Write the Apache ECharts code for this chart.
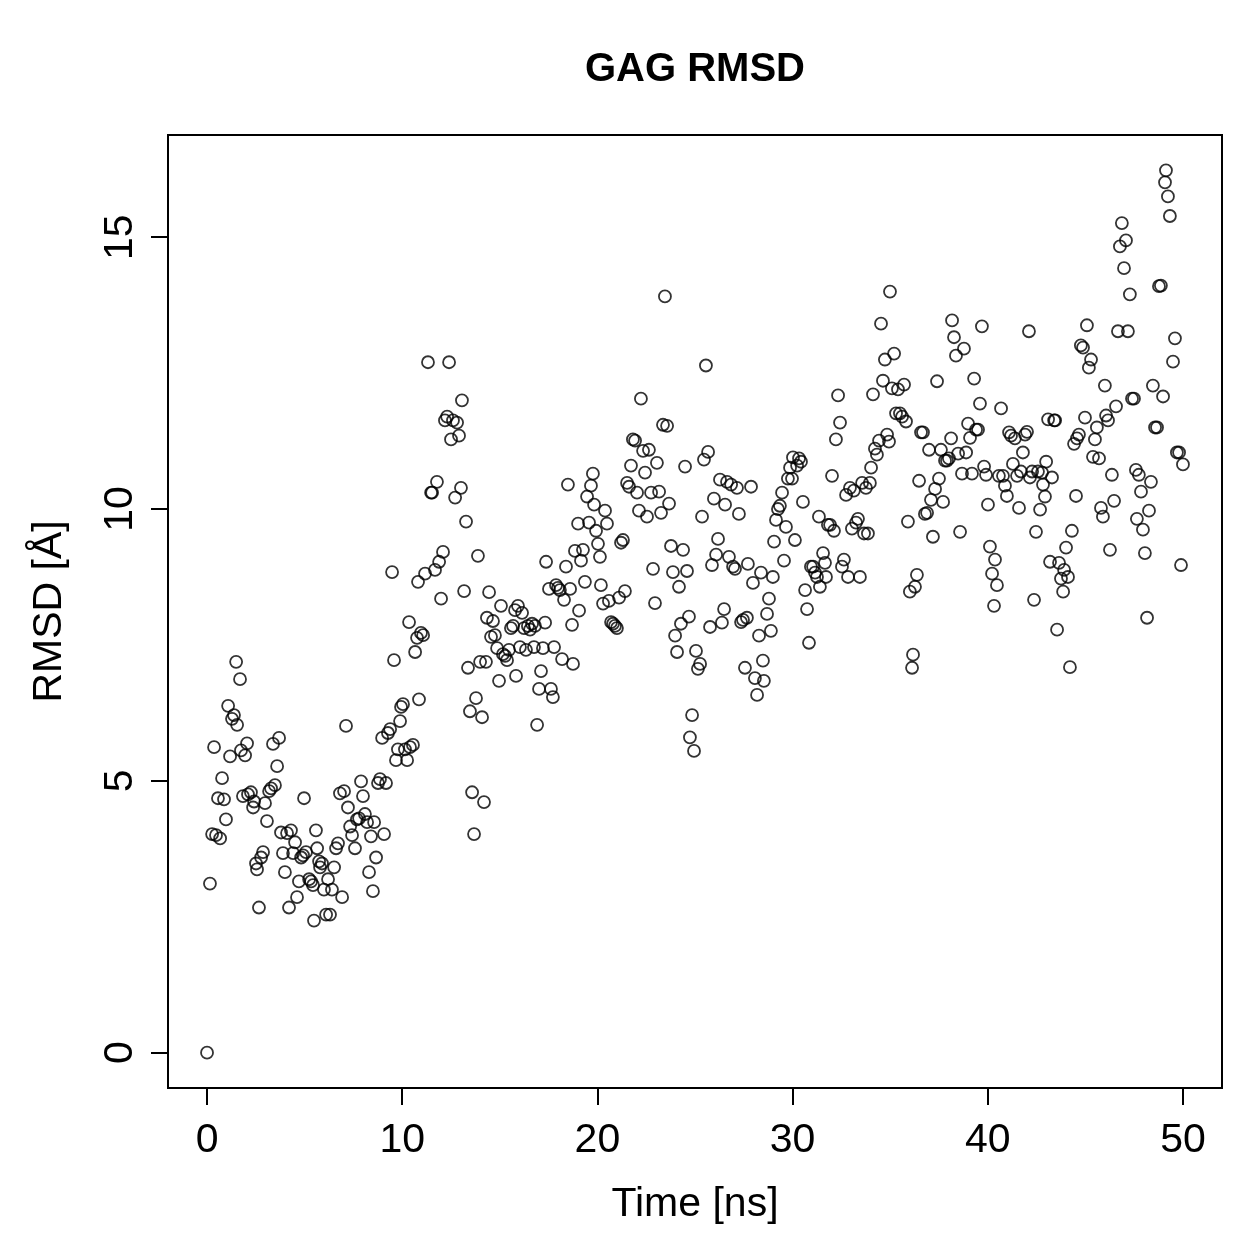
<!DOCTYPE html>
<html>
<head>
<meta charset="utf-8">
<script src="https://cdn.jsdelivr.net/npm/echarts@6/dist/echarts.min.js"></script>
<style>html,body{margin:0;padding:0;background:#fff}#c{width:1259px;height:1259px}</style>
</head>
<body>
<div id="c"></div>
<script>
const chartTitle = 'GAG RMSD';
const xTicks = [0, 10, 20, 30, 40, 50];
const yTicks = [0, 5, 10, 15];
// [time (ns), RMSD (Å)]
const samples = [
[0,0],[0.15,3.11],[0.26,4.02],[0.36,5.62],[0.46,4.0],[0.56,4.68],[0.67,3.94],[0.77,5.05],[0.87,4.66],[0.97,4.29],
[1.08,6.38],[1.18,5.45],[1.28,6.14],[1.38,6.21],[1.49,7.19],[1.54,6.03],[1.69,6.87],[1.74,5.56],[1.84,4.72],[1.95,5.47],
[2.05,5.69],[2.1,4.75],[2.25,4.79],[2.36,4.51],[2.41,4.62],[2.51,3.48],[2.56,3.37],[2.66,2.67],[2.77,3.59],[2.87,3.69],
[2.97,4.59],[3.07,4.26],[3.18,4.81],[3.28,4.86],[3.38,5.68],[3.48,4.92],[3.59,5.27],[3.69,5.79],[3.79,4.05],[3.89,3.67],
[3.99,3.32],[4.1,4.04],[4.2,2.67],[4.3,4.09],[4.41,3.67],[4.51,3.87],[4.61,2.86],[4.71,3.15],[4.82,3.59],[4.92,3.63],
[4.97,4.68],[5.07,3.69],[5.23,3.19],[5.33,3.15],[5.43,3.08],[5.48,2.43],[5.58,4.09],[5.64,3.76],[5.74,3.52],[5.79,3.41],
[5.89,3.48],[5.99,3.0],[6.1,2.54],[6.2,3.19],[6.3,2.54],[6.4,3.0],[6.51,3.41],[6.61,3.76],[6.71,3.85],[6.81,4.77],
[6.92,2.86],[7.02,4.81],[7.12,6.01],[7.22,4.51],[7.33,4.16],[7.43,4.0],[7.58,3.76],[7.68,4.29],[7.79,4.31],[7.89,4.99],
[7.99,4.72],[8.09,4.39],[8.2,4.24],[8.3,3.32],[8.4,3.98],[8.5,2.97],[8.56,4.24],[8.66,3.59],[8.76,4.96],[8.86,5.03],
[8.97,5.79],[9.07,4.02],[9.17,4.96],[9.27,5.88],[9.38,5.95],[9.48,8.84],[9.58,7.22],[9.68,5.38],[9.78,5.58],[9.89,6.1],
[9.94,6.36],[10.04,6.41],[10.14,5.58],[10.25,5.38],[10.35,7.92],[10.4,5.62],[10.55,5.66],[10.66,7.37],[10.76,7.63],[10.81,8.66],
[10.86,6.5],[10.96,7.72],[11.07,7.68],[11.17,8.81],[11.32,12.7],[11.48,10.3],[11.53,10.3],[11.68,8.88],[11.78,10.5],[11.89,9.03],
[11.99,8.35],[12.09,9.21],[12.19,11.63],[12.3,11.7],[12.4,12.7],[12.5,11.28],[12.6,11.63],[12.71,10.21],[12.81,11.59],[12.91,11.35],
[13.01,10.39],[13.06,12.0],[13.17,8.49],[13.27,9.77],[13.37,7.08],[13.47,6.28],[13.58,4.79],[13.68,4.02],[13.78,6.52],[13.88,9.14],
[13.99,7.19],[14.09,6.17],[14.19,4.61],[14.29,7.19],[14.34,8.0],[14.45,8.47],[14.55,7.65],[14.65,7.94],[14.75,7.68],[14.86,7.44],
[14.96,6.84],[15.06,8.22],[15.16,7.33],[15.27,7.3],[15.37,7.22],[15.47,7.41],[15.57,7.81],[15.68,7.85],[15.78,8.14],[15.83,6.93],
[15.93,8.22],[16.03,7.46],[16.14,8.09],[16.24,7.81],[16.34,7.41],[16.44,7.85],[16.55,7.78],[16.65,7.89],[16.75,7.46],[16.8,7.85],
[16.91,6.03],[17.01,6.69],[17.11,7.02],[17.21,7.44],[17.32,7.91],[17.37,9.03],[17.52,8.53],[17.62,6.69],[17.72,6.54],[17.78,7.46],
[17.88,8.6],[17.98,8.55],[18.08,8.51],[18.19,7.24],[18.29,8.33],[18.39,8.94],[18.49,10.45],[18.6,8.53],[18.7,7.87],[18.75,7.15],
[18.85,9.23],[19.01,9.73],[19.06,8.13],[19.16,9.05],[19.26,9.25],[19.36,8.66],[19.47,10.23],[19.57,9.75],[19.67,10.43],[19.77,10.65],
[19.83,10.08],[19.93,9.6],[20.03,9.36],[20.13,9.12],[20.18,8.6],[20.29,8.26],[20.39,9.97],[20.49,9.73],[20.59,8.31],[20.7,7.92],
[20.8,7.89],[20.9,7.85],[21.0,7.81],[21.11,8.37],[21.21,9.38],[21.31,9.43],[21.41,8.49],[21.52,10.48],[21.62,10.41],[21.72,10.8],
[21.82,11.28],[21.93,11.26],[22.03,10.3],[22.13,9.97],[22.23,12.03],[22.34,11.07],[22.44,10.67],[22.54,9.86],[22.64,11.09],[22.75,10.3],
[22.85,8.9],[22.95,8.27],[23.05,10.85],[23.16,10.32],[23.26,9.93],[23.36,11.55],[23.46,13.91],[23.57,11.53],[23.67,10.1],[23.77,9.32],
[23.87,8.84],[23.98,7.67],[24.08,7.37],[24.18,8.57],[24.28,7.89],[24.39,9.25],[24.49,10.78],[24.59,8.86],[24.69,8.02],[24.74,5.8],
[24.85,6.21],[24.95,5.55],[25.05,7.39],[25.15,7.06],[25.26,7.15],[25.36,9.86],[25.46,10.91],[25.56,12.64],[25.67,11.05],[25.77,7.83],
[25.87,8.97],[25.97,10.19],[26.08,9.16],[26.18,9.45],[26.28,10.54],[26.38,7.91],[26.49,8.16],[26.54,10.08],[26.64,10.5],[26.74,9.12],
[26.85,10.45],[26.95,8.94],[27.05,8.9],[27.15,10.39],[27.25,9.91],[27.36,7.92],[27.46,7.96],[27.56,7.08],[27.66,8.0],[27.71,8.99],
[27.87,10.41],[27.97,8.64],[28.07,6.89],[28.18,6.58],[28.28,7.67],[28.38,8.83],[28.48,7.21],[28.53,6.84],[28.69,8.07],[28.79,8.35],
[28.89,7.76],[28.99,8.75],[29.05,9.4],[29.15,9.8],[29.25,10.0],[29.35,10.06],[29.46,10.3],[29.56,9.05],[29.66,9.67],[29.76,10.56],
[29.87,10.76],[29.97,10.56],[30.02,10.95],[30.12,9.43],[30.23,10.8],[30.33,10.93],[30.43,10.87],[30.53,10.13],[30.64,8.51],[30.74,8.16],
[30.84,7.54],[30.94,8.94],[31.05,8.94],[31.15,8.83],[31.25,8.75],[31.35,9.86],[31.4,8.57],[31.56,9.19],[31.66,9.01],[31.71,8.75],
[31.81,9.71],[31.92,9.71],[32.02,10.61],[32.12,9.6],[32.22,11.28],[32.33,12.09],[32.43,11.59],[32.53,8.94],[32.63,9.07],[32.74,10.26],
[32.84,8.75],[32.94,10.39],[33.04,9.64],[33.14,10.34],[33.25,9.75],[33.35,9.82],[33.45,8.75],[33.56,10.48],[33.66,9.55],[33.76,10.39],
[33.86,9.55],[33.96,10.48],[34.02,10.76],[34.12,12.11],[34.22,11.11],[34.32,11.0],[34.43,11.26],[34.53,13.41],[34.63,12.36],[34.73,12.75],
[34.84,11.37],[34.94,11.24],[34.99,14.0],[35.09,12.22],[35.2,12.86],[35.3,11.76],[35.4,12.2],[35.5,11.76],[35.61,11.7],[35.71,12.29],
[35.81,11.61],[35.91,9.77],[36.01,8.48],[36.12,7.08],[36.17,7.32],[36.27,8.57],[36.37,8.79],[36.48,10.52],[36.58,11.41],[36.68,11.41],
[36.78,9.91],[36.89,9.93],[36.99,11.09],[37.09,10.17],[37.19,9.49],[37.3,10.37],[37.4,12.35],[37.5,10.56],[37.6,11.09],[37.71,10.13],
[37.81,10.89],[37.91,10.89],[38.01,10.93],[38.12,11.3],[38.17,13.47],[38.27,13.16],[38.37,12.82],[38.48,11.02],[38.58,9.58],[38.68,10.65],
[38.78,12.95],[38.89,11.04],[38.99,11.57],[39.09,11.31],[39.19,10.65],[39.3,12.4],[39.4,11.46],[39.5,11.46],[39.6,11.94],[39.7,13.36],
[39.81,10.78],[39.91,10.63],[40.01,10.08],[40.11,9.31],[40.22,8.81],[40.32,8.22],[40.37,9.07],[40.47,8.6],[40.57,10.61],[40.68,11.85],
[40.78,10.61],[40.88,10.43],[40.98,10.24],[41.09,11.41],[41.19,11.35],[41.29,10.83],[41.39,11.3],[41.5,10.61],[41.6,10.02],[41.7,10.69],
[41.8,11.04],[41.91,11.37],[42.01,11.42],[42.11,13.27],[42.16,10.58],[42.27,10.69],[42.37,8.33],[42.47,9.58],[42.57,10.69],[42.68,9.99],
[42.78,10.67],[42.83,10.45],[42.93,10.23],[42.99,10.87],[43.09,11.65],[43.19,9.03],[43.29,10.58],[43.4,11.63],[43.45,11.63],[43.55,7.78],
[43.65,9.01],[43.75,8.72],[43.86,8.48],[43.91,8.88],[44.01,9.29],[44.11,8.75],[44.21,7.09],[44.31,9.6],[44.42,11.2],[44.52,10.24],
[44.57,11.3],[44.67,11.37],[44.77,13.01],[44.88,12.97],[44.98,11.68],[45.08,13.38],[45.18,12.6],[45.29,12.75],[45.39,10.96],[45.49,11.28],
[45.59,11.5],[45.7,10.93],[45.8,10.02],[45.9,9.86],[46.0,12.27],[46.06,11.72],[46.16,11.63],[46.26,9.25],[46.36,10.63],[46.47,10.15],
[46.57,11.89],[46.67,13.27],[46.77,14.83],[46.87,15.26],[46.98,14.43],[47.08,14.94],[47.18,13.27],[47.28,13.95],[47.39,12.03],[47.49,12.03],
[47.59,10.72],[47.64,9.82],[47.74,10.63],[47.85,10.32],[47.95,9.62],[48.05,9.19],[48.16,8.0],[48.26,9.97],[48.36,10.5],[48.46,12.27],
[48.57,11.5],[48.67,11.5],[48.77,14.1],[48.87,14.11],[48.98,12.07],[49.08,16.01],[49.13,16.23],[49.23,15.75],[49.33,15.39],[49.49,12.71],
[49.59,13.14],[49.69,11.04],[49.8,11.04],[49.9,8.97],[50.0,10.82]
];

const FONT = '"Liberation Sans", Arial, Helvetica, sans-serif';
const chart = echarts.init(document.getElementById('c'), null, {renderer: 'canvas'});
chart.setOption({
  animation: false,
  backgroundColor: '#ffffff',
  graphic: [{
    type: 'text', x: 695, y: 70, silent: true,
    style: {text: chartTitle, font: 'bold 40px ' + FONT, fill: '#000', align: 'center', verticalAlign: 'middle'}
  }],
  grid: {
    left: 168, right: 37, top: 135, bottom: 171,
    show: true, borderColor: '#000', borderWidth: 2, backgroundColor: 'transparent'
  },
  xAxis: {
    type: 'value', min: -2, max: 52,
    name: 'Time [ns]', nameLocation: 'middle', nameGap: 96,
    nameTextStyle: {fontFamily: FONT, fontSize: 41, color: '#000'},
    axisLine: {show: false, onZero: false},
    splitLine: {show: false},
    axisTick: {show: true, inside: false, length: 17, lineStyle: {color: '#000', width: 2}, customValues: xTicks},
    axisLabel: {fontFamily: FONT, fontSize: 41, color: '#000', margin: 32, customValues: xTicks}
  },
  yAxis: {
    type: 'value', min: -0.65, max: 16.88,
    name: 'RMSD [Å]', nameLocation: 'middle', nameGap: 98,
    nameTextStyle: {fontFamily: FONT, fontSize: 41, color: '#000'},
    axisLine: {show: false, onZero: false},
    splitLine: {show: false},
    axisTick: {show: true, inside: false, length: 17, lineStyle: {color: '#000', width: 2}, customValues: yTicks},
    axisLabel: {fontFamily: FONT, fontSize: 41, color: '#000', margin: 27, rotate: 90, customValues: yTicks}
  },
  series: [{
    type: 'scatter',
    data: samples,
    symbol: 'circle',
    symbolSize: 12,
    itemStyle: {color: 'rgba(0,0,0,0)', borderColor: '#000', borderWidth: 1.8},
    emphasis: {disabled: true}
  }]
});
</script>
</body>
</html>
